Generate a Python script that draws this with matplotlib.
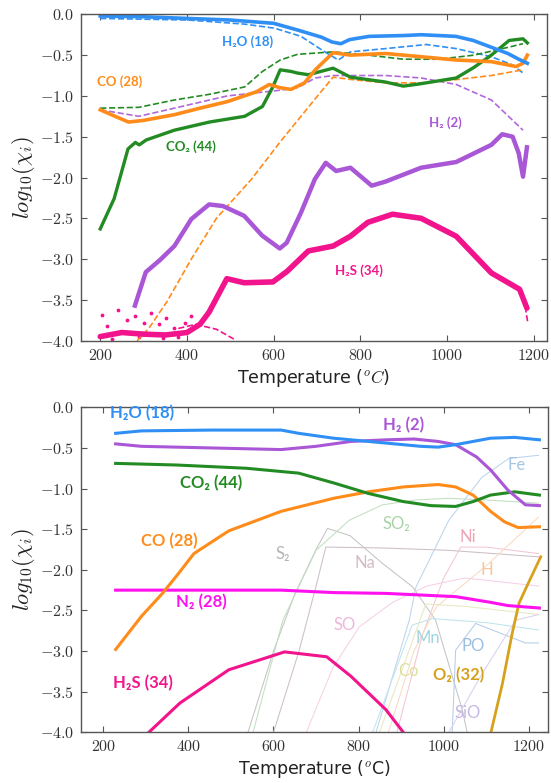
#!/usr/bin/env python3
import numpy as np
import matplotlib
matplotlib.use("Agg")
import matplotlib.pyplot as plt

plt.rcParams['mathtext.fontset'] = 'cm'
plt.rcParams['axes.formatter.use_mathtext'] = True
plt.rcParams['font.family'] = ['DejaVu Sans']

# colours
BLUE = '#2f8ff5'
ORANGE = '#ff8c1a'
GREEN = '#238b23'
PURPLE = '#a957d6'
PINK = '#f2148c'
MAGENTA = '#ff10ee'
GOLD = '#d6a21e'

# ---------------- top panel (measured) ----------------
h2o_T = [200, 300, 400, 500, 600, 660, 710, 735, 755, 775, 820, 900, 940, 1020, 1060, 1100, 1140, 1165, 1185]
h2o_v = [-0.02, -0.03, -0.05, -0.07, -0.11, -0.20, -0.28, -0.34, -0.36, -0.31, -0.27, -0.26, -0.25, -0.27, -0.32, -0.40, -0.48, -0.55, -0.60]
h2o_d_T = [200, 403, 533, 602, 663, 712, 749, 777, 858, 952, 1021, 1102, 1151, 1175]
h2o_d_v = [-0.05, -0.07, -0.12, -0.17, -0.27, -0.44, -0.56, -0.46, -0.42, -0.37, -0.42, -0.52, -0.62, -0.72]

co2_d_T = [200, 289, 371, 452, 533, 574, 615, 655, 737, 818, 899, 981, 1062, 1144, 1175]
co2_d_v = [-1.15, -1.14, -1.05, -0.98, -0.89, -0.70, -0.56, -0.49, -0.46, -0.50, -0.55, -0.55, -0.50, -0.40, -0.36]

co_T = [200, 230, 265, 300, 371, 430, 493, 560, 590, 615, 640, 671, 696, 737, 777, 858, 940, 1021, 1102, 1159, 1175, 1185]
co_v = [-1.17, -1.24, -1.32, -1.30, -1.23, -1.15, -1.07, -0.95, -0.86, -0.90, -0.92, -0.84, -0.68, -0.47, -0.50, -0.48, -0.52, -0.56, -0.58, -0.64, -0.60, -0.50]

h2_d_T = [200, 289, 371, 493, 615, 655, 696, 737, 858, 940, 1021, 1102, 1175]
h2_d_v = [-1.17, -1.25, -1.15, -1.00, -0.93, -0.90, -0.78, -0.75, -0.75, -0.78, -0.86, -1.05, -1.42]

co_d_T = [285, 312, 354, 410, 468, 549, 614, 695, 737, 780, 858, 940, 1021, 1102, 1175]
co_d_v = [-4.0, -3.85, -3.52, -3.0, -2.5, -2.02, -1.57, -1.04, -0.77, -0.80, -0.84, -0.84, -0.80, -0.75, -0.68]

co2_T = [200, 232, 264, 281, 290, 306, 371, 452, 533, 574, 598, 615, 640, 655, 680, 737, 777, 858, 899, 940, 1021, 1062, 1102, 1143, 1175, 1185]
co2_v = [-2.63, -2.26, -1.65, -1.57, -1.60, -1.54, -1.42, -1.32, -1.25, -1.13, -0.89, -0.68, -0.70, -0.72, -0.74, -0.66, -0.77, -0.83, -0.88, -0.85, -0.78, -0.65, -0.50, -0.32, -0.30, -0.35]

h2_T = [280, 305, 338, 371, 410, 451, 483, 532, 573, 614, 630, 663, 695, 720, 744, 777, 826, 858, 940, 1021, 1102, 1127, 1151, 1165, 1175, 1184]
h2_v = [-3.57, -3.16, -3.01, -2.84, -2.51, -2.33, -2.35, -2.47, -2.71, -2.87, -2.80, -2.43, -2.02, -1.82, -1.92, -1.88, -2.10, -2.05, -1.88, -1.81, -1.60, -1.47, -1.50, -1.70, -1.99, -1.63]

h2s_T = [200, 250, 300, 350, 400, 430, 451, 492, 532, 598, 631, 680, 737, 777, 817, 874, 940, 1021, 1102, 1167, 1184]
h2s_v = [-3.95, -3.90, -3.92, -3.93, -3.90, -3.80, -3.65, -3.24, -3.29, -3.28, -3.15, -2.90, -2.84, -2.72, -2.55, -2.45, -2.50, -2.72, -3.17, -3.37, -3.60]
# loose points in the noisy low-T tail
h2s_pts_T = [205, 215, 240, 262, 280, 300, 318, 335, 352, 370, 395, 410, 228, 290, 345, 380]
h2s_pts_v = [-3.68, -3.82, -3.62, -3.75, -3.70, -3.78, -3.66, -3.80, -3.72, -3.84, -3.78, -3.70, -3.98, -3.96, -3.97, -3.95]
h2s_d_T = [380, 420, 468, 508]
h2s_d_v = [-3.85, -3.80, -3.86, -3.98]
h2s_d2_T = [1180, 1186]
h2s_d2_v = [-3.58, -3.78]

# ---------------- bottom panel (model) ----------------
h2o_b_T = [229, 290, 454, 618, 659, 741, 864, 946, 987, 1028, 1110, 1167, 1225]
h2o_b_v = [-0.32, -0.29, -0.28, -0.28, -0.32, -0.38, -0.44, -0.48, -0.49, -0.46, -0.38, -0.37, -0.40]
h2_b_T = [229, 290, 454, 618, 700, 782, 864, 930, 987, 1028, 1077, 1110, 1151, 1192, 1225]
h2_b_v = [-0.45, -0.48, -0.50, -0.52, -0.48, -0.42, -0.40, -0.39, -0.42, -0.46, -0.61, -0.77, -1.02, -1.20, -1.21]
co2_b_T = [229, 372, 536, 659, 741, 823, 905, 970, 1028, 1069, 1110, 1167, 1225]
co2_b_v = [-0.69, -0.71, -0.75, -0.81, -0.93, -1.06, -1.16, -1.21, -1.22, -1.16, -1.08, -1.04, -1.08]
co_b_T = [229, 290, 339, 376, 413, 495, 618, 741, 823, 905, 987, 1028, 1069, 1110, 1143, 1175, 1225]
co_b_v = [-2.98, -2.57, -2.29, -2.05, -1.80, -1.52, -1.28, -1.12, -1.04, -0.98, -0.95, -0.98, -1.08, -1.28, -1.41, -1.48, -1.47]
n2_b_T = [229, 618, 741, 864, 1028, 1110, 1151, 1225]
n2_b_v = [-2.25, -2.25, -2.28, -2.29, -2.33, -2.40, -2.44, -2.47]
h2s_b_T = [307, 380, 495, 626, 725, 782, 864, 905]
h2s_b_v = [-4.0, -3.64, -3.23, -3.01, -3.07, -3.31, -3.72, -4.0]
o2_b_T = [1111, 1138, 1161, 1177, 1200, 1228]
o2_b_v = [-4.0, -3.40, -2.78, -2.41, -2.15, -1.84]

# minor species (faint)
s2_T = [540, 600, 650, 700, 727, 780, 856, 927, 981, 1044, 1055]
s2_v = [-4.0, -3.0, -2.3, -1.75, -1.49, -1.58, -1.92, -2.21, -2.62, -3.73, -4.0]
so2_T = [552, 622, 700, 778, 856, 934, 1012, 1100, 1223]
so2_v = [-4.0, -2.62, -1.76, -1.39, -1.20, -1.14, -1.12, -1.14, -1.18]
na_T = [600, 660, 700, 723, 850, 1012, 1223]
na_v = [-4.0, -3.0, -2.2, -1.72, -1.73, -1.76, -1.84]
ni_T = [890, 950, 1000, 1040, 1100, 1223]
ni_v = [-4.0, -2.8, -2.1, -1.72, -1.72, -1.80]
fe_T = [841, 919, 935, 1012, 1090, 1153, 1223]
fe_v = [-4.0, -2.62, -2.21, -1.39, -0.86, -0.63, -0.59]
h_T = [870, 930, 982, 1100, 1223]
h_v = [-4.0, -3.0, -2.46, -1.95, -1.35]
mn_T = [833, 926, 973, 1100, 1223]
mn_v = [-4.0, -2.68, -2.60, -2.65, -2.74]
po_T = [1020, 1028, 1075, 1192, 1223]
po_v = [-4.0, -2.99, -2.66, -2.90, -2.90]
co_m_T = [849, 958, 1050, 1223]
co_m_v = [-4.0, -2.42, -2.45, -2.55]
so_T = [677, 740, 802, 880, 960, 1050, 1223]
so_v = [-4.0, -3.2, -2.7, -2.4, -2.2, -2.1, -2.2]
sio_T = [1012, 1090, 1169, 1223]
sio_v = [-4.0, -3.28, -2.62, -2.55]

LABEL_FONT = ['Lato', 'DejaVu Sans']


def style_axes(ax, xlim):
    ax.set_xlim(*xlim)
    ax.set_ylim(-4.0, 0.0)
    ax.set_xticks([200, 400, 600, 800, 1000, 1200])
    ax.set_yticks(np.arange(-4.0, 0.01, 0.5))
    ax.yaxis.set_major_formatter(matplotlib.ticker.FormatStrFormatter(r'$\mathrm{%.1f}$'))
    ax.xaxis.set_major_formatter(matplotlib.ticker.FormatStrFormatter(r'$\mathrm{%d}$'))
    ax.tick_params(direction='in', top=True, right=True, length=4, width=0.8,
                   color='#555555', labelsize=11.5, labelcolor='#333333', pad=5)
    for s in ax.spines.values():
        s.set_color('#555555')
        s.set_linewidth(1.0)
    ax.set_ylabel(r'$log_{10}(\chi_i)$', fontsize=16, color='#222222', labelpad=2)


fig = plt.figure(figsize=(5.51, 7.83), dpi=100)
ax1 = fig.add_axes([0.1465, 0.5649, 0.846, 0.4168])
ax2 = fig.add_axes([0.1465, 0.0647, 0.848, 0.4151])

# top panel
ax1.plot(h2o_d_T, h2o_d_v, '--', color=BLUE, lw=1.2)
ax1.plot(co2_d_T, co2_d_v, '--', color=GREEN, lw=1.2)
ax1.plot(h2_d_T, h2_d_v, '--', color=PURPLE, lw=1.2, alpha=0.9)
ax1.plot(co_d_T, co_d_v, '--', color=ORANGE, lw=1.2)
ax1.plot(h2s_d_T, h2s_d_v, '--', color=PINK, lw=1.2)
ax1.plot(h2s_d2_T, h2s_d2_v, '--', color=PINK, lw=1.2)
ax1.plot(h2s_T, h2s_v, color=PINK, lw=4.0, solid_capstyle='round')
ax1.scatter(h2s_pts_T, h2s_pts_v, s=3, color=PINK, clip_on=True)
ax1.plot(h2_T, h2_v, color=PURPLE, lw=3.2)
ax1.plot(co2_T, co2_v, color=GREEN, lw=2.4)
ax1.plot(co_T, co_v, color=ORANGE, lw=2.6)
ax1.plot(h2o_T, h2o_v, color=BLUE, lw=2.6)

tkw = dict(fontsize=9.5, fontweight='bold', family=LABEL_FONT, ha='center', va='center')
ax1.text(540, -0.34, 'H₂O (18)', color=BLUE, **tkw)
ax1.text(245, -0.82, 'CO (28)', color=ORANGE, **tkw)
ax1.text(410, -1.62, 'CO₂ (44)', color=GREEN, **tkw)
ax1.text(995, -1.33, 'H₂ (2)', color=PURPLE, **tkw)
ax1.text(797, -3.14, 'H₂S (34)', color=PINK, **tkw)

style_axes(ax1, (155, 1230))
ax1.set_xlabel(r'Temperature ($^oC$)', fontsize=12.5, color='#222222', labelpad=3)

# bottom panel: faint minor species first
faint = [
    (s2_T, s2_v, '#c4c4c4'), (so2_T, so2_v, '#c2dfc2'), (na_T, na_v, '#cdbfc6'),
    (ni_T, ni_v, '#f4c6d0'), (fe_T, fe_v, '#bcd4ec'), (h_T, h_v, '#f9dac0'),
    (mn_T, mn_v, '#bfe5ec'), (po_T, po_v, '#b6cde8'), (co_m_T, co_m_v, '#e8e8bf'),
    (so_T, so_v, '#f5d0e6'), (sio_T, sio_v, '#dad0ec'),
]
for T, v, c in faint:
    ax2.plot(T, v, color=c, lw=0.75)

ax2.plot(h2s_b_T, h2s_b_v, color=PINK, lw=2.2)
ax2.plot(o2_b_T, o2_b_v, color=GOLD, lw=2.0)
ax2.plot(n2_b_T, n2_b_v, color=MAGENTA, lw=2.2)
ax2.plot(co_b_T, co_b_v, color=ORANGE, lw=2.2)
ax2.plot(co2_b_T, co2_b_v, color=GREEN, lw=2.2)
ax2.plot(h2_b_T, h2_b_v, color=PURPLE, lw=2.2)
ax2.plot(h2o_b_T, h2o_b_v, color=BLUE, lw=2.2)

bkw = dict(fontsize=12, fontweight='bold', family=LABEL_FONT, ha='center', va='center')
ax2.text(290, -0.07, 'H₂O (18)', color=BLUE, **bkw)
ax2.text(905, -0.22, 'H₂ (2)', color=PURPLE, **bkw)
ax2.text(454, -0.93, 'CO₂ (44)', color=GREEN, **bkw)
ax2.text(356, -1.65, 'CO (28)', color=ORANGE, **bkw)
ax2.text(430, -2.40, 'N₂ (28)', color=MAGENTA, **bkw)
ax2.text(294, -3.40, 'H₂S (34)', color=PINK, **bkw)
ax2.text(1036, -3.30, 'O₂ (32)', color=GOLD, **bkw)

fkw = dict(fontsize=12, family=LABEL_FONT, ha='center', va='center')
ax2.text(888, -1.43, 'SO₂', color='#a8d2a8', **fkw)
ax2.text(622, -1.80, 'S₂', color='#b4b4b4', **fkw)
ax2.text(815, -1.92, 'Na', color='#d4bcc6', **fkw)
ax2.text(1057, -1.59, 'Ni', color='#eea6b6', **fkw)
ax2.text(1171, -0.71, 'Fe', color='#a6c6e6', **fkw)
ax2.text(1102, -2.00, 'H', color='#f6c6a0', **fkw)
ax2.text(766, -2.68, 'SO', color='#eeb6da', **fkw)
ax2.text(962, -2.84, 'Mn', color='#9ed6e0', **fkw)
ax2.text(1069, -2.94, 'PO', color='#9ebee0', **fkw)
ax2.text(917, -3.24, 'Co', color='#dede9e', **fkw)
ax2.text(1057, -3.76, 'SiO', color='#c6b8e2', **fkw)

style_axes(ax2, (147, 1245))
ax2.set_xlabel(r'Temperature ($^o$C)', fontsize=12.5, color='#222222', labelpad=3)

fig.savefig('out.png', dpi=100)
